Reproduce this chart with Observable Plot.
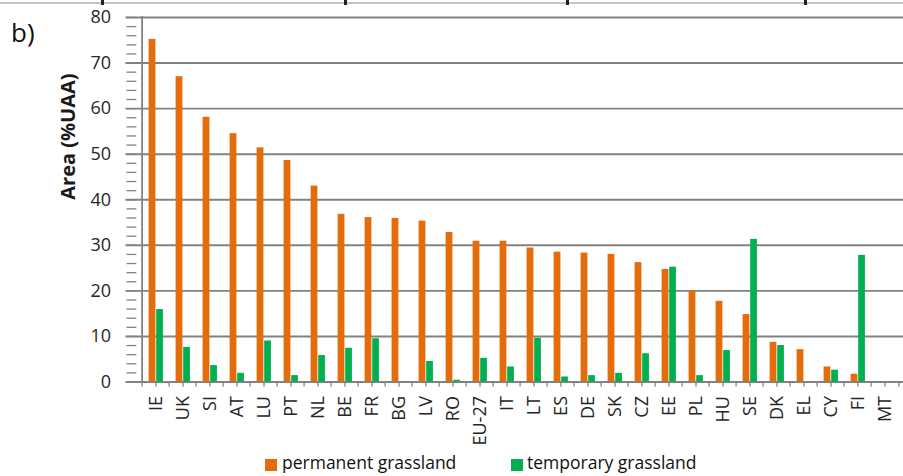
<!DOCTYPE html>
<html>
<head>
<meta charset="utf-8">
<script src="https://cdn.jsdelivr.net/npm/d3@7"></script>
<script src="https://cdn.jsdelivr.net/npm/@observablehq/plot@0.6"></script>
<style>
  html, body { margin: 0; padding: 0; background: #fff; }
  body { width: 903px; height: 476px; overflow: hidden; position: relative; font-family: "Open Sans", sans-serif; }
  #chart { position: absolute; left: 0; top: 0; width: 920px; }
  #chart svg { max-width: none !important; width: 920px !important; height: 476px !important; }
  #topline { position: absolute; left: 0; top: 0; width: 903px; height: 2px; border-bottom: 2px solid #c4c4c4; }
  .frag { position: absolute; top: 0; width: 3px; height: 5px; background: #222; }
  #blabel { position: absolute; left: 11px; top: 19px; font-size: 26px; line-height: 26px; color: #111; }
  .leg { position: absolute; top: 454px; font-size: 17.5px; line-height: 17.5px; color: #111; white-space: nowrap; }
  .sw { position: absolute; top: 459px; width: 12px; height: 12px; }
</style>
</head>
<body>
<div id="chart"></div>
<div id="topline"></div>
<div class="frag" style="left:101px"></div>
<div class="frag" style="left:344px"></div>
<div class="frag" style="left:566px"></div>
<div class="frag" style="left:804px"></div>
<div id="blabel">b)</div>
<div class="sw" style="left:265px;background:#E46C0A"></div>
<div class="leg" style="left:282px">permanent grassland</div>
<div class="sw" style="left:511px;background:#00B050"></div>
<div class="leg" style="left:527px">temporary grassland</div>
<script>
const categories = ["IE","UK","SI","AT","LU","PT","NL","BE","FR","BG","LV","RO","EU-27","IT","LT","ES","DE","SK","CZ","EE","PL","HU","SE","DK","EL","CY","FI","MT"];
const permanent = [75.2,67.0,58.1,54.5,51.4,48.6,43.0,36.8,36.1,35.9,35.3,32.8,30.9,30.9,29.4,28.5,28.3,28.0,26.2,24.7,20.0,17.7,14.8,8.7,7.1,3.3,1.7,0];
const temporary = [15.9,7.6,3.6,1.9,9.0,1.4,5.8,7.4,9.5,0,4.5,0.4,5.2,3.3,9.6,1.1,1.4,1.9,6.2,25.2,1.4,6.9,31.3,8.0,0,2.6,27.8,0];
const yTicks = [0,10,20,30,40,50,60,70,80];
const yMinor = d3.range(0, 81, 2);
const seriesColors = {permanent: "#E46C0A", temporary: "#00B050"};

const permData = categories.map((c, i) => ({category: c, value: permanent[i]}));
const tempData = categories.map((c, i) => ({category: c, value: temporary[i]}));

const half = 13.89;
const gridColor = "#828282";

const chart = Plot.plot({
  width: 920,
  height: 476,
  marginLeft: 131.5,
  marginRight: 10.7,
  marginTop: 17,
  marginBottom: 94.5,
  style: {fontFamily: "Open Sans", fontSize: "18px", color: "#262626", background: "transparent", maxWidth: "none"},
  x: {domain: categories, padding: 0, label: null, tickSize: 0, tickRotate: -90, tickPadding: 14},
  y: {domain: [0, 80], ticks: yTicks, label: null, tickSize: 0, tickPadding: 21},
  marks: [
    Plot.ruleY(yTicks, {y: d => d, stroke: gridColor, strokeWidth: 1.9, insetLeft: -6}),
    Plot.barY(permData, {x: "category", y: "value", fill: seriesColors.permanent, insetLeft: 6.6, insetRight: 13.6}),
    Plot.barY(tempData, {x: "category", y: "value", fill: seriesColors.temporary, insetLeft: 14.2, insetRight: 6.1}),
    Plot.ruleX([categories[0]], {x: d => d, dx: -half, stroke: gridColor, strokeWidth: 1.8, insetTop: -1}),
    Plot.ruleY(yMinor, {y: d => d, stroke: gridColor, strokeWidth: 1.3, insetLeft: -5, insetRight: 773}),
    Plot.ruleX(categories, {x: d => d, y1: 0, y2: 0, insetBottom: -5, stroke: gridColor, strokeWidth: 1.3}),
    Plot.ruleX(categories, {x: d => d, dx: -half, y1: 0, y2: 0, insetBottom: -5, stroke: gridColor, strokeWidth: 1.3}),
    Plot.ruleX([categories[categories.length - 1]], {x: d => d, dx: half, y1: 0, y2: 0, insetBottom: -5, stroke: gridColor, strokeWidth: 1.3}),
    Plot.text(["Area (%UAA)"], {text: d => d, frameAnchor: "left", rotate: -90, dx: -63, fontSize: 20, fontWeight: "bold", fill: "#1a1a1a"})
  ]
});
document.getElementById("chart").appendChild(chart);
</script>
</body>
</html>
